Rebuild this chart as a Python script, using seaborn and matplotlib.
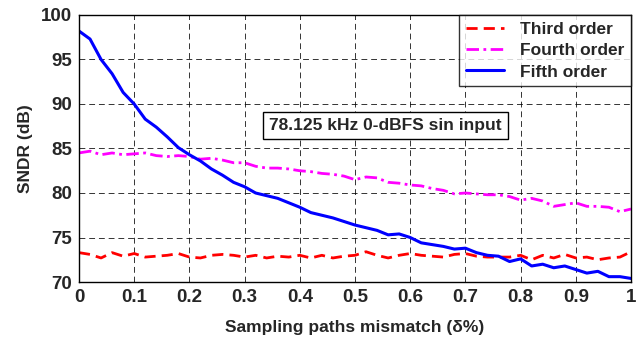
import numpy as np
import pandas as pd
import matplotlib
matplotlib.use("Agg")
import matplotlib.pyplot as plt
import seaborn as sns

mismatch = [0.00, 0.02, 0.04, 0.06, 0.08, 0.10, 0.12, 0.14, 0.16, 0.18,
            0.20, 0.22, 0.24, 0.26, 0.28, 0.30, 0.32, 0.34, 0.36, 0.38,
            0.40, 0.42, 0.44, 0.46, 0.48, 0.50, 0.52, 0.54, 0.56, 0.58,
            0.60, 0.62, 0.64, 0.66, 0.68, 0.70, 0.72, 0.74, 0.76, 0.78,
            0.80, 0.82, 0.84, 0.86, 0.88, 0.90, 0.92, 0.94, 0.96, 0.98, 1.00]

third_order = [73.3, 73.1, 72.7, 73.3, 72.9, 73.2, 72.8, 72.9, 73.0, 73.2,
               72.8, 72.7, 73.0, 73.1, 73.0, 72.8, 73.0, 72.7, 72.9, 72.8,
               73.0, 72.7, 73.0, 72.7, 72.9, 73.0, 73.4, 73.0, 72.7, 73.0,
               73.2, 73.0, 72.9, 72.8, 73.1, 73.2, 72.9, 72.8, 72.8, 72.8,
               73.0, 72.5, 73.0, 72.7, 73.1, 72.7, 72.8, 72.5, 72.7, 72.8, 73.4]

fourth_order = [84.5, 84.7, 84.3, 84.5, 84.3, 84.4, 84.5, 84.2, 84.1, 84.2,
                84.1, 83.8, 83.9, 83.7, 83.4, 83.4, 83.0, 82.8, 82.8, 82.7,
                82.5, 82.4, 82.2, 82.1, 81.9, 81.5, 81.8, 81.7, 81.2, 81.1,
                80.9, 80.8, 80.5, 80.3, 79.9, 80.0, 79.9, 79.8, 79.8, 79.6,
                79.2, 79.4, 79.1, 78.5, 78.7, 78.9, 78.5, 78.5, 78.4, 77.9, 78.2]

fifth_order = [98.2, 97.3, 95.0, 93.4, 91.3, 90.0, 88.3, 87.4, 86.3, 85.1,
               84.3, 83.6, 82.7, 82.0, 81.2, 80.7, 80.0, 79.7, 79.4, 78.9,
               78.4, 77.8, 77.5, 77.2, 76.8, 76.4, 76.1, 75.8, 75.3, 75.4,
               75.0, 74.4, 74.2, 74.0, 73.7, 73.8, 73.3, 73.0, 72.9, 72.3,
               72.6, 71.8, 72.0, 71.6, 71.8, 71.4, 71.0, 71.2, 70.6, 70.6, 70.4]

series_names = ["Third order", "Fourth order", "Fifth order"]
x_ticks = [0, 0.1, 0.2, 0.3, 0.4, 0.5, 0.6, 0.7, 0.8, 0.9, 1]
x_tick_labels = ["0", "0.1", "0.2", "0.3", "0.4", "0.5", "0.6", "0.7", "0.8", "0.9", "1"]
y_ticks = [70, 75, 80, 85, 90, 95, 100]

df = pd.concat([
    pd.DataFrame({"x": mismatch, "y": third_order, "series": series_names[0]}),
    pd.DataFrame({"x": mismatch, "y": fourth_order, "series": series_names[1]}),
    pd.DataFrame({"x": mismatch, "y": fifth_order, "series": series_names[2]}),
])

sns.set_style("white")
plt.rcParams['font.family'] = ['Liberation Sans', 'DejaVu Sans']
plt.rcParams['font.weight'] = 'bold'

fig = plt.figure(figsize=(6.39, 3.37), dpi=100)
ax = fig.add_axes([0.1236, 0.1632, 0.8639, 0.7923])

styles = {"Third order": ("#ff0000", (0, (4.0, 2.2)), 2.0),
          "Fourth order": ("#ff00ff", (0, (4.5, 1.6, 1.0, 1.6)), 2.0),
          "Fifth order": ("#0000ff", "-", 2.2)}
for name in series_names:
    c, ls, lw = styles[name]
    sub = df[df["series"] == name]
    sns.lineplot(data=sub, x="x", y="y", ax=ax, color=c, linestyle=ls,
                 linewidth=lw, label=name, estimator=None, sort=False)

ax.set_xlim(0, 1)
ax.set_ylim(70, 100)
ax.set_xticks(x_ticks)
ax.set_xticklabels(x_tick_labels)
ax.set_yticks(y_ticks)
ax.tick_params(direction='in', length=4, labelsize=13.5, pad=5, width=0.8)
for lab in ax.get_xticklabels() + ax.get_yticklabels():
    lab.set_fontweight('bold')
ax.grid(True, color='black', linestyle=(0, (6, 4)), linewidth=0.7, alpha=0.8)
for s in ax.spines.values():
    s.set_color('black')
    s.set_linewidth(1.0)
ax.set_xlabel("Sampling paths mismatch (δ%)", fontsize=12.5, fontweight='bold', labelpad=10)
ax.set_ylabel("SNDR (dB)", fontsize=12.5, fontweight='bold', labelpad=6)

leg = ax.legend(loc='upper right', prop={'weight': 'bold', 'size': 12.5},
                frameon=True, fancybox=False,
                edgecolor='black', borderaxespad=0, handlelength=2.2,
                labelspacing=0.35, borderpad=0.4, handletextpad=0.9)
leg.get_frame().set_linewidth(1.0)

ax.text(0.555, 0.585, "78.125 kHz 0-dBFS sin input", transform=ax.transAxes,
        ha='center', va='center', fontsize=12.5, fontweight='bold',
        bbox=dict(boxstyle='square,pad=0.35', facecolor='white', edgecolor='black', linewidth=1.0))

fig.savefig("out.png", dpi=100)
